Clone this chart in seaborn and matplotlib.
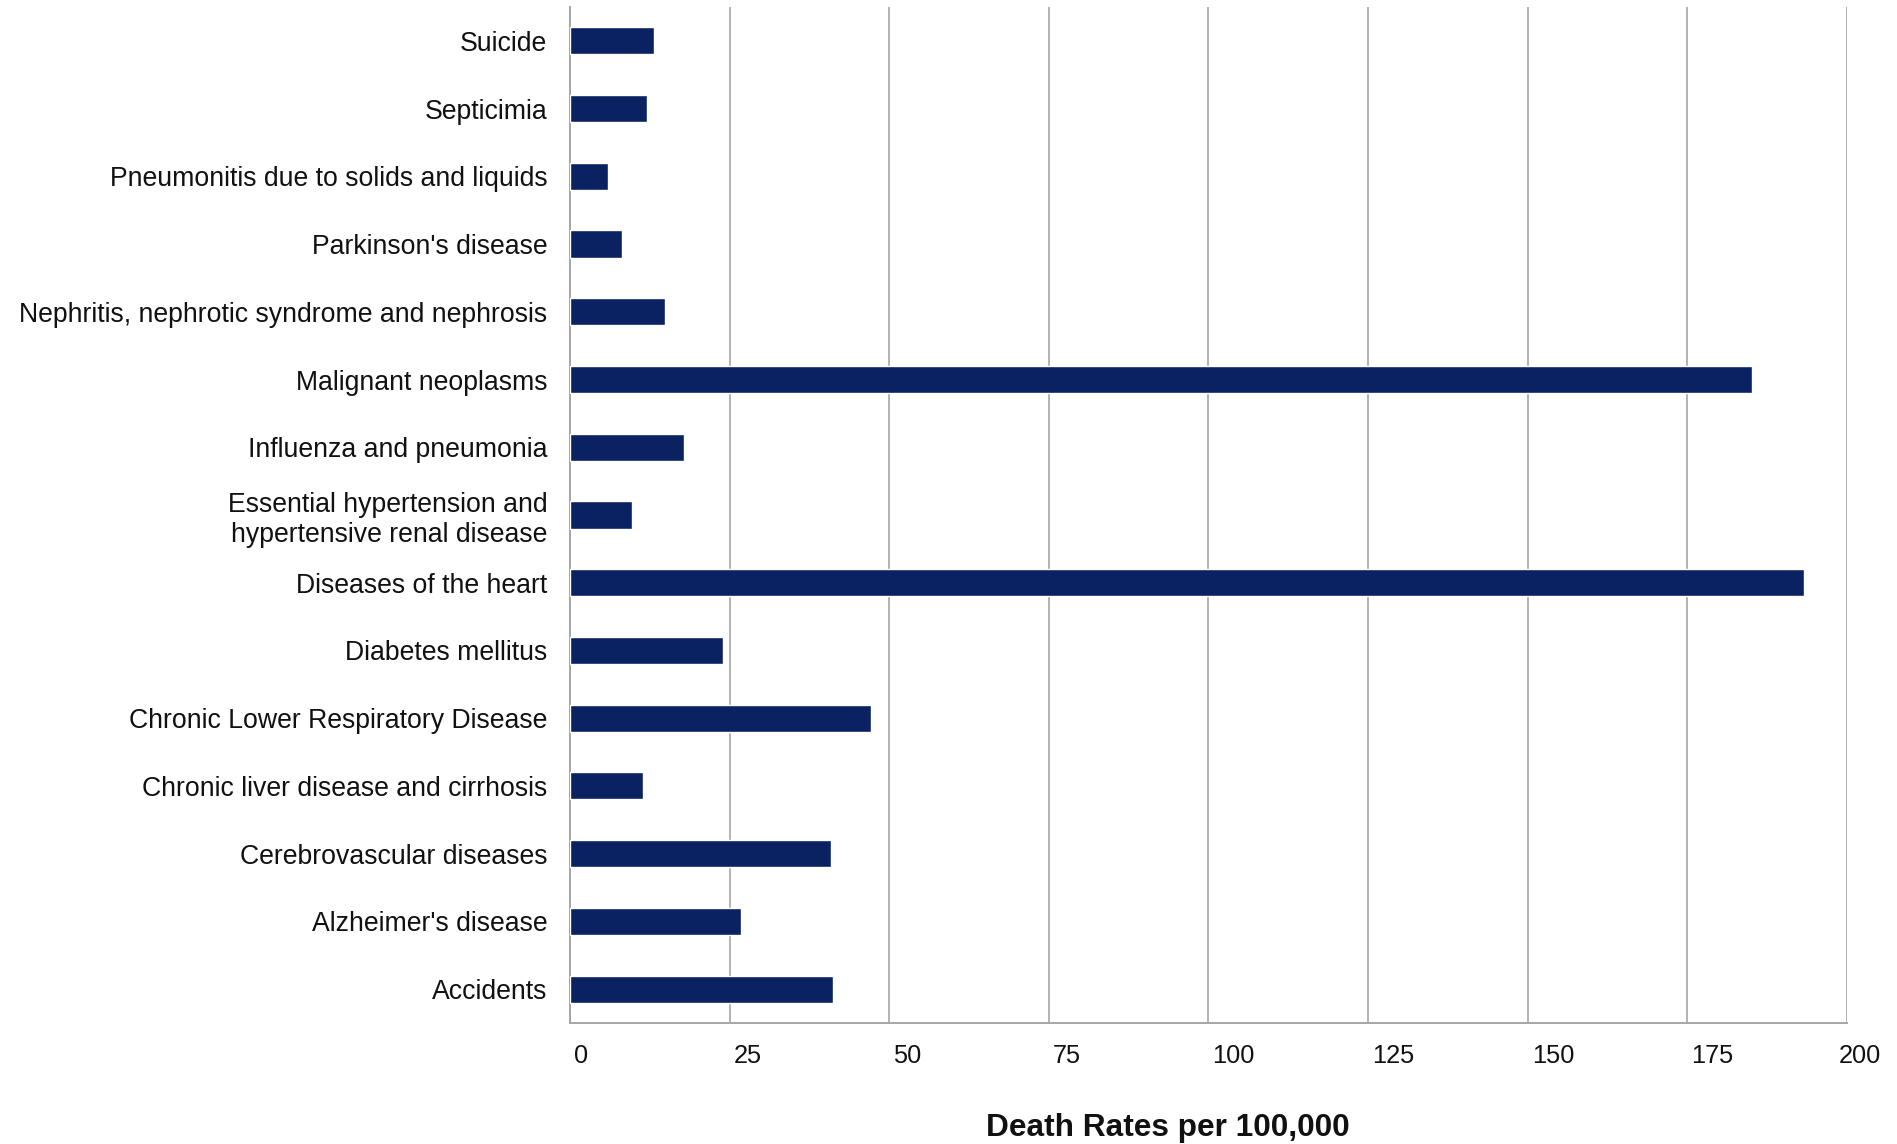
import matplotlib
matplotlib.use("Agg")
import matplotlib.pyplot as plt
import matplotlib.transforms as mtransforms
import seaborn as sns
import pandas as pd

causes = [
    "Suicide",
    "Septicimia",
    "Pneumonitis due to solids and liquids",
    "Parkinson's disease",
    "Nephritis, nephrotic syndrome and nephrosis",
    "Malignant neoplasms",
    "Influenza and pneumonia",
    "Essential hypertension and\nhypertensive renal disease",
    "Diseases of the heart",
    "Diabetes mellitus",
    "Chronic Lower Respiratory Disease",
    "Chronic liver disease and cirrhosis",
    "Cerebrovascular diseases",
    "Alzheimer's disease",
    "Accidents",
]
rates = [13.2, 12.1, 5.9, 8.1, 14.9, 185.1, 17.9, 9.7, 193.3, 24.0, 47.2, 11.5, 40.8, 26.8, 41.2]
x_ticks = [0, 25, 50, 75, 100, 125, 150, 175, 200]
x_label = "Death Rates per 100,000"

df = pd.DataFrame({"cause": causes, "rate": rates})

sns.set_theme(style="white")
plt.rcParams["font.family"] = ["Liberation Sans", "DejaVu Sans"]

fig = plt.figure(figsize=(18.97, 11.44), dpi=100)
ax = fig.add_axes([0.3005, 0.1058, 0.6731, 0.8881])

sns.barplot(data=df, x="rate", y="cause", color="#0a2262", saturation=1,
            width=0.4, orient="h", ax=ax, zorder=3)

ax.set_xlim(0, 200)
ax.set_xticks(x_ticks)
ax.set_xticklabels([str(t) for t in x_ticks], fontsize=18.3)

ax.grid(axis="x", color="#a6a6a6", linewidth=1.2, zorder=0)
ax.grid(axis="y", visible=False)
ax.tick_params(axis="both", length=0)
ax.tick_params(axis="x", pad=15)
ax.tick_params(axis="y", pad=16.5, labelsize=19.2)
for lbl in ax.get_yticklabels():
    lbl.set_color("#111111")

# value labels sit just right of their gridline; the last one is pulled back inside
labels = ax.get_xticklabels()
for i, lbl in enumerate(labels):
    lbl.set_color("#111111")
    lbl.set_horizontalalignment("left")
    dx = 4 if i < len(labels) - 1 else -8
    lbl.set_transform(lbl.get_transform()
                      + mtransforms.ScaledTranslation(dx / 100, 0, fig.dpi_scale_trans))

for side in ["top", "right"]:
    ax.spines[side].set_visible(False)
for side in ["left", "bottom"]:
    ax.spines[side].set_color("#a6a6a6")
    ax.spines[side].set_linewidth(1.4)

ax.set_ylabel("")
ax.set_xlabel(x_label, fontsize=22.8, fontweight="bold", color="#111111")
ax.xaxis.set_label_coords(0.468, -0.103)
ax.xaxis.label.set_verticalalignment("center")

fig.savefig("out.png", dpi=100, facecolor="white")
